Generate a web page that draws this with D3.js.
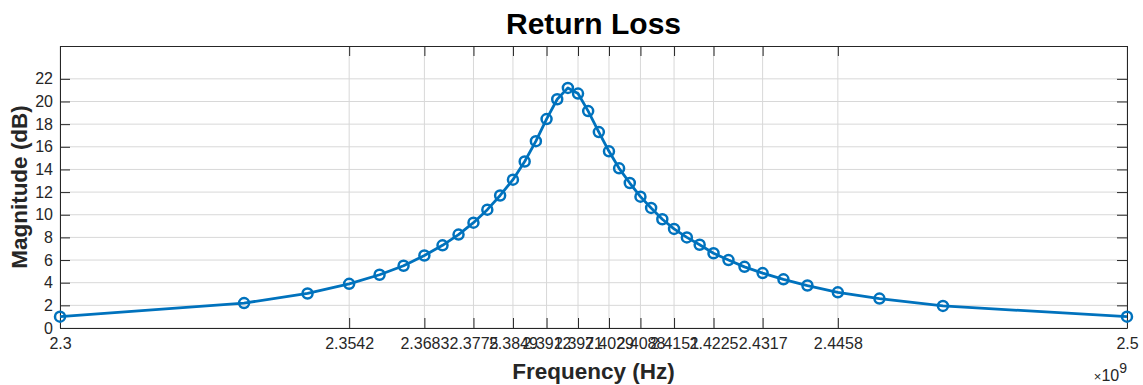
<!DOCTYPE html>
<html>
<head>
<meta charset="utf-8">
<script src="https://cdn.jsdelivr.net/npm/d3@7"></script>
<style>
  body { margin: 0; background: #fff; }
  svg { display: block; font-family: "Liberation Sans", Arial, sans-serif; }
</style>
</head>
<body>
<svg id="chart" width="1143" height="385"></svg>
<script>
// frequency in units of 1e9 Hz
const freq = [2.3, 2.3345, 2.3464, 2.3542, 2.3599, 2.3644, 2.3683, 2.3717, 2.3747, 2.3775,
  2.3801, 2.3825, 2.3849, 2.3871, 2.3892, 2.3912, 2.3932, 2.3952, 2.3971, 2.3990,
  2.4010, 2.4029, 2.4048, 2.4068, 2.4088, 2.4108, 2.4129, 2.4151, 2.4175, 2.4199,
  2.4225, 2.4253, 2.4283, 2.4317, 2.4356, 2.4401, 2.4458, 2.4536, 2.4655, 2.5];

// return loss in dB
const magnitude = [1.0, 2.2, 3.05, 3.9, 4.7, 5.5, 6.4, 7.3, 8.25, 9.3,
  10.45, 11.7, 13.1, 14.7, 16.5, 18.45, 20.2, 21.2, 20.7, 19.15,
  17.3, 15.6, 14.1, 12.8, 11.6, 10.6, 9.6, 8.75, 8.0, 7.35,
  6.6, 6.0, 5.4, 4.85, 4.3, 3.75, 3.15, 2.6, 1.95, 1.0];

// every third sample gets an x tick, like xticks(f(1:3:end))
const xTickValues = freq.filter((f, i) => i % 3 === 0);
const yTickValues = [0, 2, 4, 6, 8, 10, 12, 14, 16, 18, 20, 22];

const plotLeft = 60, plotRight = 1127, plotTop = 46, plotBottom = 328;
const axisColor = "#262626";
const gridColor = "#d8d8d8";
const lineColor = "#0072BD";

const svg = d3.select("#chart");

const x = d3.scaleLinear().domain([2.3, 2.5]).range([plotLeft, plotRight]);
const y = d3.scaleLinear().domain([0, 24.9]).range([plotBottom, plotTop]);

// grid
svg.append("g")
  .selectAll("line")
  .data(xTickValues)
  .join("line")
  .attr("x1", d => x(d)).attr("x2", d => x(d))
  .attr("y1", plotTop).attr("y2", plotBottom)
  .attr("stroke", gridColor).attr("stroke-width", 1);

svg.append("g")
  .selectAll("line")
  .data(yTickValues)
  .join("line")
  .attr("x1", plotLeft).attr("x2", plotRight)
  .attr("y1", d => y(d)).attr("y2", d => y(d))
  .attr("stroke", gridColor).attr("stroke-width", 1);

// axes (ticks point inward, box on)
const fmt = d3.format(".5~g");

function styleAxis(g) {
  g.select(".domain").attr("stroke", axisColor);
  g.selectAll(".tick line").attr("stroke", axisColor);
  g.selectAll(".tick text").attr("fill", axisColor).style("font-size", "16px");
}

svg.append("g")
  .attr("transform", `translate(0,${plotBottom})`)
  .call(d3.axisBottom(x).tickValues(xTickValues).tickFormat(fmt).tickSizeInner(-10).tickSizeOuter(0).tickPadding(10))
  .call(styleAxis);

svg.append("g")
  .attr("transform", `translate(0,${plotTop})`)
  .call(d3.axisTop(x).tickValues(xTickValues).tickFormat("").tickSizeInner(-10).tickSizeOuter(0))
  .call(styleAxis);

svg.append("g")
  .attr("transform", `translate(${plotLeft},0)`)
  .call(d3.axisLeft(y).tickValues(yTickValues).tickSizeInner(-10).tickSizeOuter(0).tickPadding(7))
  .call(styleAxis);

svg.append("g")
  .attr("transform", `translate(${plotRight},0)`)
  .call(d3.axisRight(y).tickValues(yTickValues).tickFormat("").tickSizeInner(-10).tickSizeOuter(0))
  .call(styleAxis);

// data line + circle markers
const pts = freq.map((f, i) => ({ f: f, m: magnitude[i] }));

svg.append("path")
  .datum(pts)
  .attr("fill", "none")
  .attr("stroke", lineColor)
  .attr("stroke-width", 2.8)
  .attr("stroke-linejoin", "round")
  .attr("d", d3.line().x(d => x(d.f)).y(d => y(d.m)));

svg.append("g")
  .selectAll("circle")
  .data(pts)
  .join("circle")
  .attr("cx", d => x(d.f))
  .attr("cy", d => y(d.m))
  .attr("r", 5)
  .attr("fill", "none")
  .attr("stroke", lineColor)
  .attr("stroke-width", 2.5);

// texts
svg.append("text")
  .attr("x", (plotLeft + plotRight) / 2).attr("y", 34)
  .attr("text-anchor", "middle")
  .style("font-size", "30px").style("font-weight", "bold")
  .attr("fill", "#000")
  .text("Return Loss");

svg.append("text")
  .attr("x", (plotLeft + plotRight) / 2).attr("y", 379)
  .attr("text-anchor", "middle")
  .style("font-size", "22.5px").style("font-weight", "bold")
  .attr("fill", axisColor)
  .text("Frequency (Hz)");

svg.append("text")
  .attr("transform", `translate(27,${(plotTop + plotBottom) / 2}) rotate(-90)`)
  .attr("text-anchor", "middle")
  .style("font-size", "22.5px").style("font-weight", "bold")
  .attr("fill", axisColor)
  .text("Magnitude (dB)");

// exponent label
const expo = svg.append("text")
  .attr("x", plotRight).attr("y", 381)
  .attr("text-anchor", "end")
  .attr("fill", axisColor)
  .style("font-size", "16px");
expo.append("tspan").style("font-size", "13px").text("×");
expo.append("tspan").text("10");
expo.append("tspan").attr("dy", -8).style("font-size", "14px").text("9");
</script>
</body>
</html>
